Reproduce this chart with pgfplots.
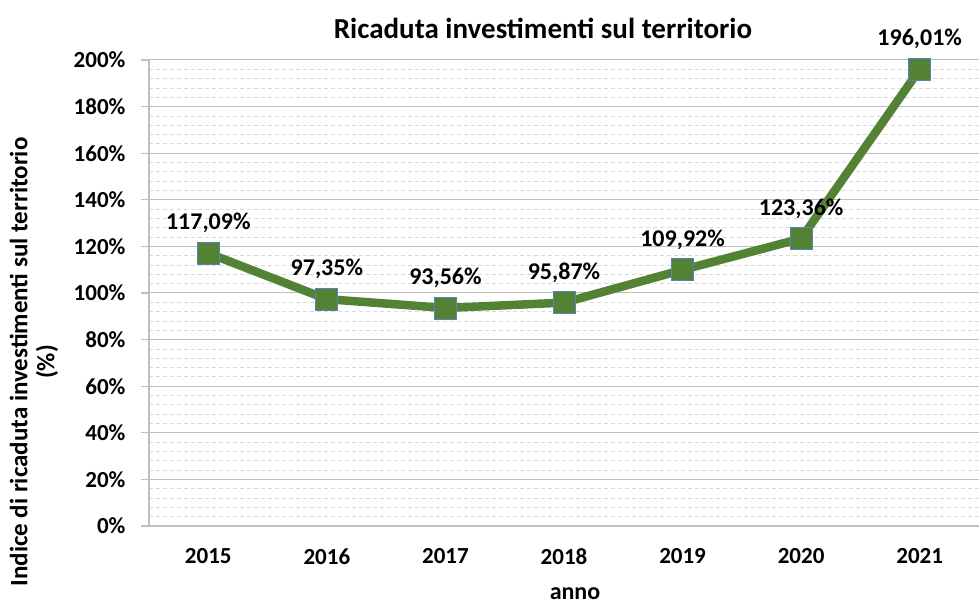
\documentclass[border=0pt]{standalone}
\usepackage{pgfplots}
\pgfplotsset{compat=1.18}
\usepackage{fontspec}
\setmainfont{Carlito}
\definecolor{lineg}{HTML}{548235}
\definecolor{edgeb}{HTML}{5B7FBF}
\definecolor{majg}{HTML}{BFBFBF}
\definecolor{ming}{HTML}{D9D9D9}
\begin{document}
\begin{tikzpicture}[font=\bfseries]
\path[use as bounding box] (-149pt,-78pt) rectangle (830pt,526pt);
\begin{axis}[
  at={(0pt,0pt)}, anchor=south west,
  scale only axis, width=830pt, height=466pt,
  xmin=-0.5, xmax=6.5, ymin=0, ymax=200,
  xtick={0,1,2,3,4,5,6},
  xticklabels={2015,2016,2017,2018,2019,2020,2021},
  ytick={0,20,...,200},
  minor y tick num=4,
  yticklabel={\pgfmathprintnumber{\tick}\%},
  /pgf/number format/assume math mode=true,
  axis x line*=bottom, axis y line*=left,
  axis line style={majg, line width=1.2pt},
  x tick style={draw=none},
  y tick style={majg, line width=1.2pt},
  minor y tick style={draw=none},
  tick align=outside,
  major tick length=8pt,
  ymajorgrids, yminorgrids,
  major grid style={majg, line width=1pt},
  minor grid style={ming, line width=0.8pt, dash pattern=on 4pt off 3pt},
  tick label style={font=\fontsize{23}{27}\selectfont\bfseries},
  x tick label style={yshift=-11pt},
  y tick label style={xshift=-12pt},
  nodes near coords={\pgfmathprintnumber[fixed,precision=2,fixed zerofill,use comma]{\pgfplotspointmeta}\%},
  every node near coord/.append style={font=\fontsize{24}{28}\selectfont\bfseries, anchor=center, yshift=30pt, text=black},
  clip=false,
]
\addplot[lineg, line width=8.5pt, mark=square*, mark size=11pt,
  mark options={fill=lineg, draw=edgeb, line width=0.8pt}]
  coordinates {(0,117.09) (1,97.35) (2,93.56) (3,95.87) (4,109.92) (5,123.36) (6,196.01)};
\end{axis}
\node[font=\fontsize{29}{33}\selectfont\bfseries] at (394pt,498pt) {Ricaduta investimenti sul territorio};
\node[font=\fontsize{24}{28}\selectfont\bfseries] at (426pt,-68pt) {anno};
\node[rotate=90, align=center, font=\fontsize{25}{27}\selectfont\bfseries] at (-115pt,164pt) {Indice di ricaduta investimenti sul territorio\\(\%)};
\end{tikzpicture}
\end{document}
